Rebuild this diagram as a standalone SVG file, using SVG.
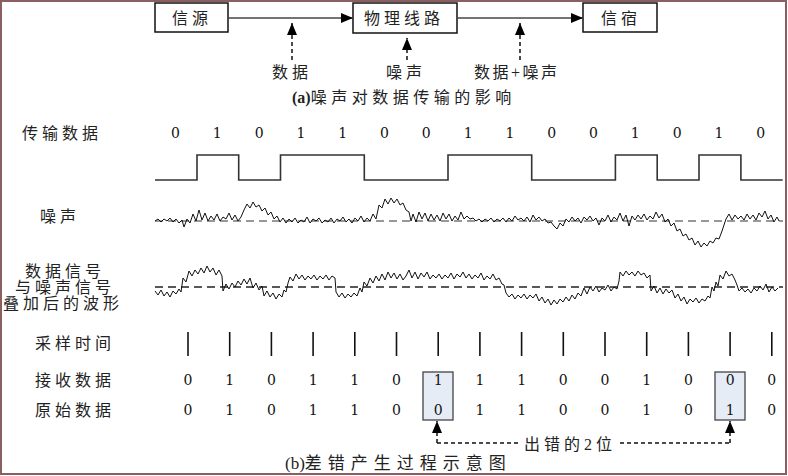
<svg xmlns="http://www.w3.org/2000/svg" width="788" height="476" viewBox="0 0 788 476">
<style>
.cn{font-family:"Liberation Serif","Noto Sans CJK SC",serif;font-size:16px;fill:#222;letter-spacing:4px}
.bit{font-family:"DejaVu Serif","Liberation Serif",serif;font-size:14px;fill:#111;text-anchor:middle}
.box{fill:#fff;stroke:#111;stroke-width:1.5}
.err{fill:#e6ecf6;stroke:#444;stroke-width:1.3}
.solid{fill:none;stroke:#444;stroke-width:1.6}
.dash{fill:none;stroke:#111;stroke-width:1.5;stroke-dasharray:4 3}
.wave{fill:none;stroke:#111;stroke-width:1}
.sq{fill:none;stroke:#333;stroke-width:1.6}
.tick{stroke:#111;stroke-width:1.6}
</style>
<defs>
<marker id="ah" markerUnits="userSpaceOnUse" markerWidth="12" markerHeight="10" refX="12" refY="5" orient="auto"><path d="M0,0 L12,5 L0,10 z" fill="#000"/></marker>
</defs>
<rect x="1" y="1" width="785" height="473" fill="#fff" stroke="#8b5f5f" stroke-width="2"/>

<g id="source"><rect class="box" x="155" y="3" width="73" height="29"/><text class="cn" x="172" y="24">信源</text></g>
<g id="channel"><rect class="box" x="353" y="3" width="104" height="30"/><text class="cn" x="364" y="24">物理线路</text></g>
<g id="sink"><rect class="box" x="583" y="3" width="74" height="29"/><text class="cn" x="601" y="24">信宿</text></g>
<g id="label-data"><text class="cn" x="272" y="78">数据</text></g>
<g id="label-noise"><text class="cn" x="386" y="78">噪声</text></g>
<g id="label-datanoise"><text class="cn" x="474" y="78" style="letter-spacing:2.5px">数据+噪声</text></g>
<g id="caption-a"><text class="cn" x="292" y="103" style="letter-spacing:4.5px"><tspan font-weight="bold" style="letter-spacing:0">(a)</tspan>噪声对数据传输的影响</text></g>

<g id="connectors">
<line class="solid" x1="228" y1="18" x2="353" y2="18" marker-end="url(#ah)"/>
<line class="solid" x1="457" y1="18" x2="583" y2="18" marker-end="url(#ah)"/>
<line class="dash" x1="292" y1="60" x2="292" y2="23" marker-end="url(#ah)"/>
<line class="dash" x1="407" y1="60" x2="407" y2="38" marker-end="url(#ah)"/>
<line class="dash" x1="520" y1="60" x2="520" y2="23" marker-end="url(#ah)"/>
<path class="dash" d="M437,443 V421" marker-end="url(#ah)"/>
<path class="dash" d="M730,443 V421" marker-end="url(#ah)"/>
<path class="dash" d="M437,443 H521 M620,443 H730"/>
</g>

<g id="row-labels">
<text class="cn" x="22" y="139">传输数据</text>
<text class="cn" x="40" y="222">噪声</text>
<text class="cn" x="25" y="277">数据信号</text>
<text class="cn" x="15" y="293">与噪声信号</text>
<text class="cn" x="3" y="309">叠加后的波形</text>
<text class="cn" x="35" y="349">采样时间</text>
<text class="cn" x="35" y="386">接收数据</text>
<text class="cn" x="35" y="416">原始数据</text>
</g>

<g id="tx-bits">
<text class="bit" x="175.5" y="138">0</text><text class="bit" x="217.3" y="138">1</text><text class="bit" x="259.1" y="138">0</text><text class="bit" x="300.9" y="138">1</text><text class="bit" x="342.7" y="138">1</text><text class="bit" x="384.5" y="138">0</text><text class="bit" x="426.3" y="138">0</text><text class="bit" x="468.1" y="138">1</text><text class="bit" x="509.9" y="138">1</text><text class="bit" x="551.7" y="138">0</text><text class="bit" x="593.5" y="138">0</text><text class="bit" x="635.3" y="138">1</text><text class="bit" x="677.1" y="138">0</text><text class="bit" x="718.9" y="138">1</text><text class="bit" x="760.7" y="138">0</text>
</g>

<g id="square-wave"><path class="sq" d="M155,180 H197 V155 H238.7 V180 H280.5 V155 H364.3 V180 H448 V155 H531.7 V180 H615.4 V155 H657.2 V180 H699 V155 H740.9 V180 H782.7"/></g>

<g id="noise">
<line x1="155" y1="221" x2="783" y2="221" stroke="#777" stroke-width="1.5" stroke-dasharray="8 5"/>
<polyline class="wave" points="155,221 158,219 161,222 164,219 167,221 170,218 173,222 176,219 179,223 182,220 184,227 187,219 190,223 193,214 196,221 199,210 202,220 205,213 208,221 211,216 214,220 217,214 220,221 223,217 226,219 229,213 232,220 235,215 238,221 241,217 244,210 247,204 250,208 253,202 256,207 259,205 262,211 265,208 268,215 271,212 274,219 277,216 280,222 283,218 286,223 289,219 292,222 295,218 298,223 301,220 304,222 307,217 310,223 313,219 316,221 319,218 322,223 325,220 328,222 331,218 334,223 337,219 340,221 343,217 346,222 349,219 352,223 355,218 358,221 361,216 364,222 367,218 370,221 373,214 376,219 379,205 382,208 385,199 388,204 391,198 394,203 397,199 400,205 403,203 406,210 409,212 411,221 413,214 416,222 419,212 422,219 425,213 428,221 431,214 434,220 437,215 440,221 443,213 446,219 449,214 452,221 455,216 458,220 461,212 464,219 467,216 470,219 473,218 476,221 479,219 482,222 485,219 488,221 491,218 494,222 497,219 500,221 503,218 506,222 509,218 512,221 515,216 518,220 521,218 524,221 527,217 530,222 533,215 536,220 539,217 542,221 545,219 548,223 551,222 554,226 557,229 560,223 563,226 566,219 569,222 572,217 575,221 578,218 581,223 584,217 587,220 590,216 593,221 596,218 599,225 602,218 605,221 608,215 611,222 614,217 617,220 620,213 623,221 626,215 629,226 632,216 635,220 638,215 641,219 644,214 647,220 650,216 653,219 656,212 659,218 662,214 665,222 668,219 671,226 674,223 677,231 680,229 683,236 686,234 689,240 692,238 695,245 698,241 701,247 704,243 707,246 710,241 713,243 716,238 719,239 722,231 724,225 726,219 729,214 732,220 735,215 738,219 741,216 744,220 747,214 750,219 753,215 756,220 759,213 762,217 765,211 768,219 771,215 774,222 777,217 779,221"/>
</g>

<g id="sum-wave">
<line x1="155" y1="287" x2="783" y2="287" stroke="#222" stroke-width="1.5" stroke-dasharray="8 5"/>
<polyline class="wave" points="155,291 158,295 161,290 164,296 167,292 170,297 173,291 176,294 179,289 181,292 183,278 186,282 189,271 192,276 195,270 198,274 201,268 204,273 207,266 210,272 213,268 216,275 219,270 222,276 223,291 226,284 229,289 232,283 235,287 238,281 241,285 244,279 247,284 250,278 253,288 256,283 259,290 262,286 264,296 267,291 270,297 273,293 276,299 279,294 282,297 284,290 286,292 288,283 290,277 293,281 296,274 299,279 302,275 305,280 308,276 311,279 314,275 317,280 320,276 323,279 326,275 329,280 332,276 335,278 336,292 339,297 342,293 345,298 348,294 351,297 354,293 357,296 360,288 362,292 364,282 367,286 370,278 373,283 376,276 379,281 382,274 385,280 388,272 391,278 394,273 397,279 400,274 403,280 406,276 409,270 412,278 415,272 418,279 421,273 424,277 427,272 430,279 433,275 436,278 439,274 442,279 445,275 448,278 451,273 454,279 457,274 460,277 463,272 466,278 469,274 472,279 475,275 478,278 481,273 484,280 487,276 490,279 493,274 496,280 499,278 502,284 504,285 506,293 509,297 512,294 515,299 518,295 521,298 524,294 527,299 530,295 533,298 536,294 539,301 542,297 545,303 548,299 551,305 554,300 557,304 560,299 563,302 566,297 569,301 572,295 575,299 578,293 581,296 584,288 587,294 590,287 593,291 596,286 599,292 602,288 605,290 608,285 611,291 614,287 617,289 619,281 620,272 623,276 626,271 629,275 632,272 635,276 638,271 641,275 644,273 647,278 650,275 651,291 654,286 657,293 660,288 663,294 666,289 669,293 672,290 675,298 678,294 681,301 684,297 687,304 690,299 693,302 696,298 699,303 702,299 705,301 708,296 710,298 712,287 714,291 716,282 718,286 720,275 723,279 726,271 729,276 732,274 735,280 737,285 739,291 742,288 745,292 748,289 751,293 754,288 757,291 760,286 763,290 766,284 769,292 772,287 775,291 778,288"/>
</g>

<g id="sample-ticks">
<line class="tick" x1="188" y1="332" x2="188" y2="356"/><line class="tick" x1="229.7" y1="332" x2="229.7" y2="356"/><line class="tick" x1="271.4" y1="332" x2="271.4" y2="356"/><line class="tick" x1="313.1" y1="332" x2="313.1" y2="356"/><line class="tick" x1="354.8" y1="332" x2="354.8" y2="356"/><line class="tick" x1="396.5" y1="332" x2="396.5" y2="356"/><line class="tick" x1="438.2" y1="332" x2="438.2" y2="356"/><line class="tick" x1="479.9" y1="332" x2="479.9" y2="356"/><line class="tick" x1="521.6" y1="332" x2="521.6" y2="356"/><line class="tick" x1="563.3" y1="332" x2="563.3" y2="356"/><line class="tick" x1="605" y1="332" x2="605" y2="356"/><line class="tick" x1="646.7" y1="332" x2="646.7" y2="356"/><line class="tick" x1="688.4" y1="332" x2="688.4" y2="356"/><line class="tick" x1="730.1" y1="332" x2="730.1" y2="356"/><line class="tick" x1="771.8" y1="332" x2="771.8" y2="356"/>
</g>

<g id="error-box-1"><rect class="err" x="423" y="372" width="30" height="48"/></g>
<g id="error-box-2"><rect class="err" x="715" y="372" width="30" height="48"/></g>

<g id="rx-bits">
<text class="bit" x="188" y="385">0</text><text class="bit" x="229.7" y="385">1</text><text class="bit" x="271.4" y="385">0</text><text class="bit" x="313.1" y="385">1</text><text class="bit" x="354.8" y="385">1</text><text class="bit" x="396.5" y="385">0</text><text class="bit" x="438.2" y="385">1</text><text class="bit" x="479.9" y="385">1</text><text class="bit" x="521.6" y="385">1</text><text class="bit" x="563.3" y="385">0</text><text class="bit" x="605" y="385">0</text><text class="bit" x="646.7" y="385">1</text><text class="bit" x="688.4" y="385">0</text><text class="bit" x="730.1" y="385">0</text><text class="bit" x="771.8" y="385">0</text>
</g>
<g id="orig-bits">
<text class="bit" x="188" y="415">0</text><text class="bit" x="229.7" y="415">1</text><text class="bit" x="271.4" y="415">0</text><text class="bit" x="313.1" y="415">1</text><text class="bit" x="354.8" y="415">1</text><text class="bit" x="396.5" y="415">0</text><text class="bit" x="438.2" y="415">0</text><text class="bit" x="479.9" y="415">1</text><text class="bit" x="521.6" y="415">1</text><text class="bit" x="563.3" y="415">0</text><text class="bit" x="605" y="415">0</text><text class="bit" x="646.7" y="415">1</text><text class="bit" x="688.4" y="415">0</text><text class="bit" x="730.1" y="415">1</text><text class="bit" x="771.8" y="415">0</text>
</g>

<g id="label-errors"><text class="cn" x="524" y="450" style="letter-spacing:4px">出错的2位</text></g>
<g id="caption-b"><text class="cn" x="285" y="469" style="font-size:17px;letter-spacing:6px"><tspan style="letter-spacing:0">(b)</tspan>差错产生过程示意图</text></g>
</svg>
